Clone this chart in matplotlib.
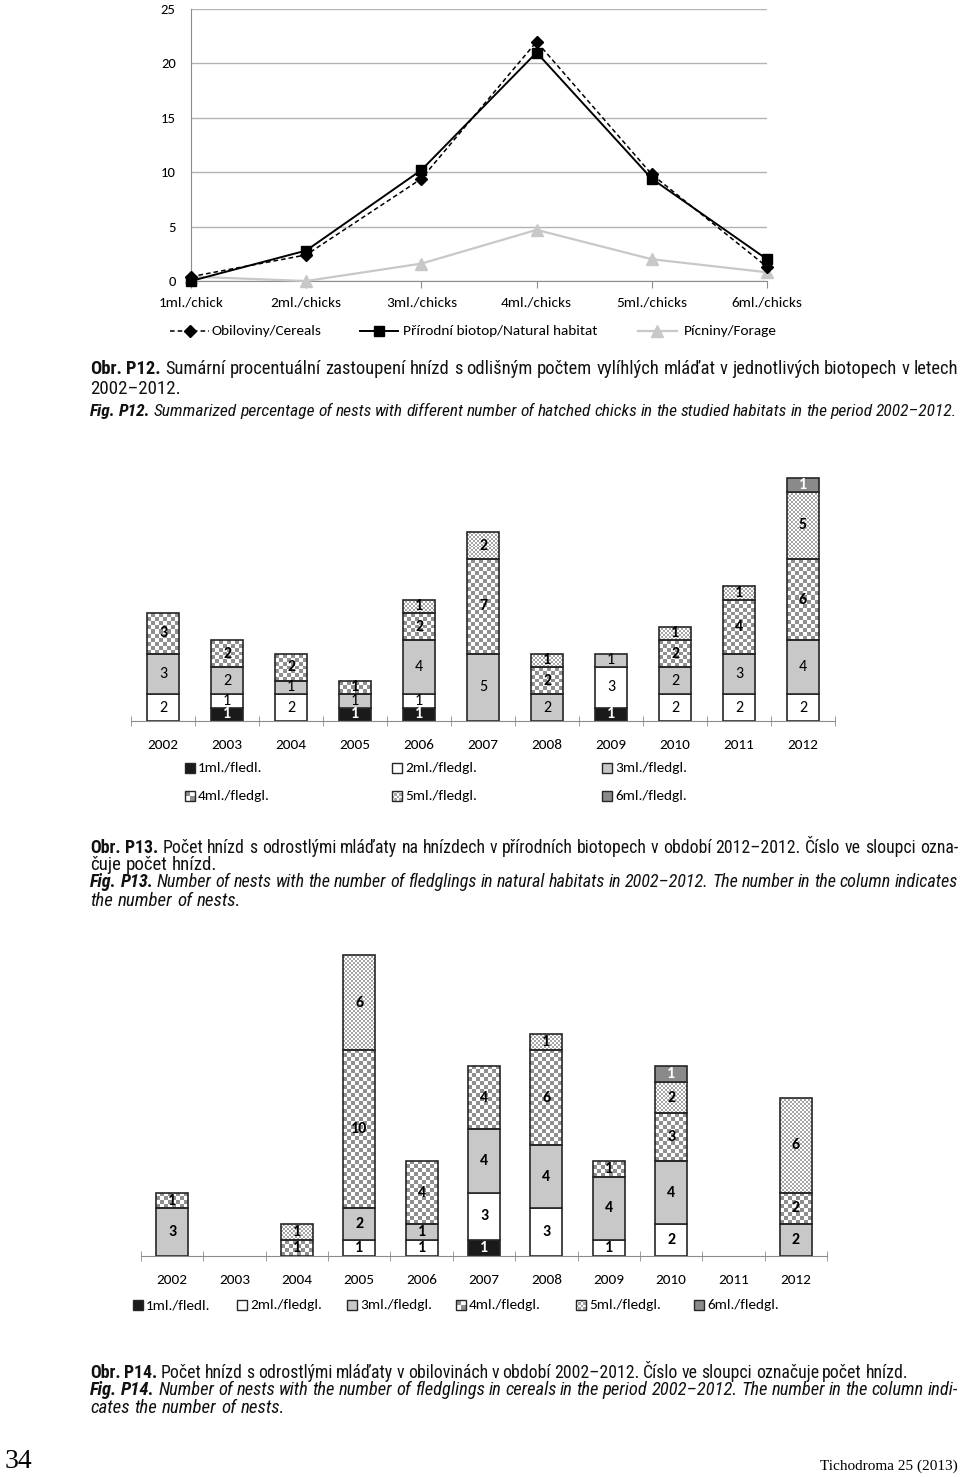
import numpy as np
import matplotlib
matplotlib.use('Agg')
import matplotlib.pyplot as plt
from matplotlib import font_manager
from matplotlib.colors import ListedColormap
from matplotlib.patches import Rectangle
from matplotlib.lines import Line2D

W, H = 960, 1477

# ---- Fig. P12: % of nests by number of hatched chicks
chick_cats = ['1ml./chick', '2ml./chicks', '3ml./chicks', '4ml./chicks', '5ml./chicks', '6ml./chicks']
cereals = [0.4, 2.4, 9.4, 22.0, 9.8, 1.3]
natural = [0.0, 2.8, 10.2, 21.0, 9.4, 2.0]
forage = [0.4, 0.0, 1.6, 4.7, 2.0, 0.8]

years = [str(y) for y in range(2002, 2013)]
fledge_labels = ['1ml./fledl.', '2ml./fledgl.', '3ml./fledgl.', '4ml./fledgl.', '5ml./fledgl.', '6ml./fledgl.']

# ---- Fig. P13: natural habitats (number of nests), 2002..2012
nat_1 = [0, 1, 0, 1, 1, 0, 0, 1, 0, 0, 0]
nat_2 = [2, 1, 2, 0, 1, 0, 0, 3, 2, 2, 2]
nat_3 = [3, 2, 1, 1, 4, 5, 2, 1, 2, 3, 4]
nat_4 = [3, 2, 2, 1, 2, 7, 2, 0, 2, 4, 6]
nat_5 = [0, 0, 0, 0, 1, 2, 1, 0, 1, 1, 5]
nat_6 = [0, 0, 0, 0, 0, 0, 0, 0, 0, 0, 1]

# ---- Fig. P14: cereals (number of nests), 2002..2012
cer_1 = [0, 0, 0, 0, 0, 1, 0, 0, 0, 0, 0]
cer_2 = [0, 0, 0, 1, 1, 3, 3, 1, 2, 0, 0]
cer_3 = [3, 0, 0, 2, 1, 4, 4, 4, 4, 0, 2]
cer_4 = [1, 0, 1, 10, 4, 4, 6, 1, 3, 0, 2]
cer_5 = [0, 0, 1, 6, 0, 0, 1, 0, 2, 0, 6]
cer_6 = [0, 0, 0, 0, 0, 0, 0, 0, 1, 0, 0]

# segment styles: (face, checker cell px, checker colour, text colour)
seg_styles = [
    ('#1a1a1a', None, None, 'white'),
    ('white', None, None, 'black'),
    ('#c8c8c8', None, None, 'black'),
    ('none', 4, '#8f8f8f', 'black'),
    ('none', 2, '#a6a6a6', 'black'),
    ('#8a8a8a', None, None, 'white'),
]

avail = {f.name for f in font_manager.fontManager.ttflist}


def pick(*names):
    for n in names:
        if n in avail:
            return n
    return 'DejaVu Sans'


CHART_FONT = pick('Carlito', 'Lato', 'Open Sans')
CAP_FONT = pick('Liberation Sans Narrow', 'Roboto Condensed', 'Liberation Sans')
SERIF = pick('Liberation Serif', 'DejaVu Serif')
plt.rcParams['font.family'] = [CHART_FONT, 'DejaVu Sans']

fig = plt.figure(figsize=(W / 100, H / 100), dpi=100)


def box(l, t, r, b):
    return [l / W, 1 - b / H, (r - l) / W, (b - t) / H]


# page overlay in pixel coordinates (captions, legends)
pg = fig.add_axes([0, 0, 1, 1])
pg.set_xlim(0, W)
pg.set_ylim(H, 0)
pg.axis('off')


def checker_fill(ax, rect, cell, col):
    x, y = rect.get_x(), rect.get_y()
    w, h = rect.get_width(), rect.get_height()
    p0 = ax.transData.transform((x, y))
    p1 = ax.transData.transform((x + w, y + h))
    nx_ = max(1, int(round(abs(p1[0] - p0[0]) / cell)))
    ny_ = max(1, int(round(abs(p1[1] - p0[1]) / cell)))
    grid = np.add.outer(np.arange(ny_), np.arange(nx_)) % 2
    im = ax.imshow(grid, extent=(x, x + w, y, y + h), cmap=ListedColormap([col, 'white']),
                   interpolation='nearest', aspect='auto', origin='lower', zorder=1.5)
    im.set_clip_path(rect)


def stacked(ax, series, bar_w, bold_all):
    xs = np.arange(len(years))
    bottom = np.zeros(len(years))
    for i, vals in enumerate(series):
        vals = np.array(vals, float)
        face, cell, ccol, tcol = seg_styles[i]
        bars = ax.bar(xs, vals, bar_w, bottom=bottom, facecolor=face, edgecolor='#262626',
                      linewidth=1.2, zorder=2, clip_on=False)
        for b, v in zip(bars, vals):
            if v <= 0:
                b.set_visible(False)
                continue
            if cell:
                checker_fill(ax, b, cell, ccol)
            bold = bold_all or i in (0, 3, 4, 5)
            ax.text(b.get_x() + b.get_width() / 2, b.get_y() + v / 2, str(int(v)),
                    ha='center', va='center', fontsize=11.5, color=tcol,
                    fontweight='bold' if bold else 'normal', zorder=3)
        bottom += vals


def bar_axes(ax, top):
    ax.set_xlim(-0.5, 10.5)
    ax.set_ylim(0, top)
    for s in ('top', 'right', 'left'):
        ax.spines[s].set_visible(False)
    ax.spines['bottom'].set_color('#8c8c8c')
    ax.set_yticks([])
    ax.set_xticks(np.arange(len(years)))
    ax.set_xticklabels(years, fontsize=11)
    ax.set_xticks(np.arange(-0.5, 11, 1), minor=True)
    ax.tick_params(axis='x', which='major', length=0, pad=13)
    ax.tick_params(axis='x', which='minor', length=7, direction='inout', color='#8c8c8c')
    ax.patch.set_alpha(0)


def legend_item(x, y, i, label, size=11):
    face, cell, ccol, _ = seg_styles[i]
    r = Rectangle((x - 5, y - 5), 10, 10, facecolor=face, edgecolor='#262626', lw=1.0, zorder=2)
    pg.add_patch(r)
    if cell:
        checker_fill(pg, r, cell * 1.25, ccol)
    pg.text(x + 8, y, label, fontsize=size, va='center', ha='left')


# ================= Fig. P12 line chart =================
ax1 = fig.add_axes(box(191, 9, 767, 281))
xc = np.arange(len(chick_cats))
ax1.set_xlim(0, 5)
ax1.set_ylim(0, 25)
ax1.set_yticks(range(0, 26, 5))
ax1.grid(axis='y', color='#b3b3b3', lw=1)
ax1.set_axisbelow(True)
ax1.plot(xc, forage, color='#c8c8c8', lw=1.6, marker='^', ms=8, clip_on=False, zorder=3)
ax1.plot(xc, natural, color='black', lw=1.4, marker='s', ms=7, clip_on=False, zorder=4)
ax1.plot(xc, cereals, color='black', lw=1.1, ls=(0, (3, 2)), marker='D', ms=6.5, clip_on=False, zorder=5)
ax1.set_xticks(xc)
ax1.set_xticklabels(chick_cats, fontsize=11)
for s in ('top', 'right'):
    ax1.spines[s].set_visible(False)
ax1.spines['left'].set_color('#8c8c8c')
ax1.spines['bottom'].set_color('#8c8c8c')
ax1.tick_params(axis='x', length=5, color='#8c8c8c', pad=6)
ax1.tick_params(axis='y', length=0, pad=11, labelsize=10.5)
ax1.patch.set_alpha(0)

# legend of P12
pg.add_line(Line2D([170, 209], [331, 331], color='black', lw=1.1, ls=(0, (3, 2))))
pg.plot([190], [331], marker='D', color='black', ms=6.5)
pg.text(212, 331, 'Obiloviny/Cereals', fontsize=11, va='center')
pg.add_line(Line2D([360, 398], [331, 331], color='black', lw=1.4))
pg.plot([379], [331], marker='s', color='black', ms=7)
pg.text(403, 331, 'Přírodní biotop/Natural habitat', fontsize=11, va='center')
pg.add_line(Line2D([638, 677], [331, 331], color='#c8c8c8', lw=1.6))
pg.plot([657], [331], marker='^', color='#c8c8c8', ms=8)
pg.text(684, 331, 'Pícniny/Forage', fontsize=11, va='center')

# ================= Fig. P13 stacked bars =================
ax2 = fig.add_axes(box(131, 478, 835, 721))
bar_axes(ax2, 18)
stacked(ax2, [nat_1, nat_2, nat_3, nat_4, nat_5, nat_6], 0.5, False)

leg2_x = [190, 397, 607]
for i, lab in enumerate(fledge_labels):
    legend_item(leg2_x[i % 3], 768 if i < 3 else 796, i, lab)

# ================= Fig. P14 stacked bars =================
ax3 = fig.add_axes(box(141, 955, 827, 1256))
bar_axes(ax3, 19)
stacked(ax3, [cer_1, cer_2, cer_3, cer_4, cer_5, cer_6], 0.513, True)

leg3_x = [138, 242, 352, 461, 581, 699]
for i, lab in enumerate(fledge_labels):
    legend_item(leg3_x[i], 1305, i, lab)


# ================= captions =================
def caption_line(parts, y, x0=90, x1=None, size=13.6):
    # y is the visual middle of the line; words are placed on a common baseline
    r = fig.canvas.get_renderer()
    base = y + 5
    words = []
    for txt, wt, st in parts:
        for w in txt.split():
            words.append((w, wt, st))
    while True:
        arts = [pg.text(0, base, w, fontsize=size, fontweight=wt, fontstyle=st, family=CAP_FONT,
                        va='baseline', ha='left', color='#111111') for w, wt, st in words]
        widths = [a.get_window_extent(r).width for a in arts]
        space = size * 100 / 72 * 0.25
        if x1 is None:
            gap = space
            break
        gap = (x1 - x0 - sum(widths)) / max(1, len(words) - 1)
        if gap >= space * 0.75 or size < 7:
            break
        for a in arts:
            a.remove()
        size *= 0.98
    x = x0
    for a, w in zip(arts, widths):
        a.set_x(x)
        x += w + gap


B, N, I = 'bold', 'normal', 'italic'
caption_line([('Obr. P12.', B, N), ('Sumární procentuální zastoupení hnízd s odlišným počtem vylíhlých '
              'mláďat v jednotlivých biotopech v letech', N, N)], 369, x1=958)
caption_line([('2002–2012.', N, N)], 389)
caption_line([('Fig. P12.', B, I), ('Summarized percentage of nests with different number of hatched chicks '
              'in the studied habitats in the period 2002–2012.', N, I)], 411, x1=957)

caption_line([('Obr. P13.', B, N), ('Počet hnízd s odrostlými mláďaty na hnízdech v přírodních biotopech '
              'v období 2012–2012. Číslo ve sloupci ozna-', N, N)], 848, x1=958)
caption_line([('čuje počet hnízd.', N, N)], 865)
caption_line([('Fig. P13.', B, I), ('Number of nests with the number of fledglings in natural habitats in '
              '2002–2012. The number in the column indicates', N, I)], 882, x1=958)
caption_line([('the number of nests.', N, I)], 901)

caption_line([('Obr. P14.', B, N), ('Počet hnízd s odrostlými mláďaty v obilovinách v období 2002–2012. '
              'Číslo ve sloupci označuje počet hnízd.', N, N)], 1373, x1=908)
caption_line([('Fig. P14.', B, I), ('Number of nests with the number of fledglings in cereals in the period '
              '2002–2012. The number in the column indi-', N, I)], 1390, x1=958)
caption_line([('cates the number of nests.', N, I)], 1408)

pg.text(5, 1462, '34', family=SERIF, fontsize=20, va='center', ha='left')
pg.text(958, 1466, 'Tichodroma 25 (2013)', family=SERIF, fontsize=11, va='center', ha='right')

fig.savefig('out.png', dpi=100, facecolor='white')
